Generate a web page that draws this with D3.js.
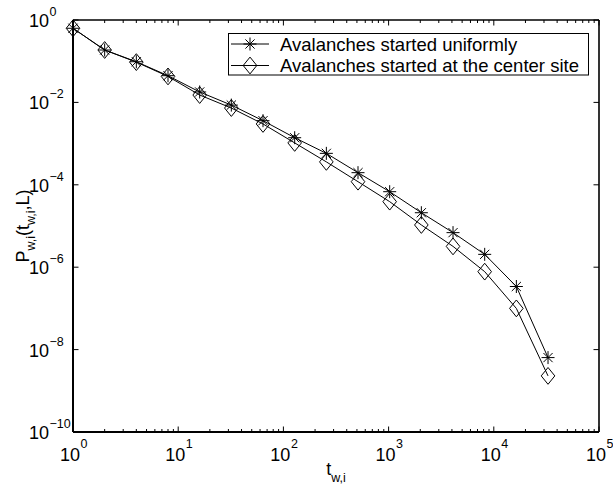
<!DOCTYPE html>
<html>
<head>
<meta charset="utf-8">
<script src="https://cdn.jsdelivr.net/npm/d3@7"></script>
<style>
  html, body { margin: 0; padding: 0; background: #fff; }
  svg text { font-family: "Liberation Sans", Arial, Helvetica, sans-serif; fill: #000; }
</style>
</head>
<body>
<svg id="chart" width="613" height="486"></svg>
<script>
// Waiting-time distribution for avalanches, two starting conditions
const tw = [1, 2, 4, 8, 16, 32, 64, 128, 256, 512, 1024, 2048, 4096, 8192, 16384, 32768];
const pUniform = [0.63, 0.187, 0.097, 0.0445, 0.0179, 0.0086, 0.0036, 0.00139, 5.8e-4, 1.97e-4,
                  6.8e-5, 2.1e-5, 6.9e-6, 2.05e-6, 3.4e-7, 6.4e-9];
const pCenter = [0.63, 0.187, 0.095, 0.0427, 0.0151, 0.0073, 0.0030, 0.00104, 3.6e-4, 1.19e-4,
                 3.9e-5, 1.06e-5, 3.2e-6, 7.8e-7, 1.0e-7, 2.3e-9];
const seriesNames = ["Avalanches started uniformly", "Avalanches started at the center site"];
const xTickExps = [0, 1, 2, 3, 4, 5];
const yTickExps = [0, -2, -4, -6, -8, -10];

const svg = d3.select("#chart");
const L = 73, R = 599, T = 20, B = 432;

const x = d3.scaleLog().domain([1, 1e5]).range([L, R]);
const y = d3.scaleLog().domain([1e-10, 1]).range([B, T]);

const fmtExp = e => (e < 0 ? "\u2212" + (-e) : String(e));

// minor x ticks (2..9 per decade)
const minorX = [];
for (let e = 0; e < 5; e++) for (let m = 2; m <= 9; m++) minorX.push(m * Math.pow(10, e));
const majorX = xTickExps.map(e => Math.pow(10, e));
const majorY = yTickExps.map(e => Math.pow(10, e));

const ticks = svg.append("g").attr("stroke", "#000").attr("stroke-width", 1);
minorX.forEach(v => {
  ticks.append("line").attr("x1", x(v)).attr("x2", x(v)).attr("y1", B).attr("y2", B - 3);
  ticks.append("line").attr("x1", x(v)).attr("x2", x(v)).attr("y1", T).attr("y2", T + 3);
});
majorX.forEach(v => {
  ticks.append("line").attr("x1", x(v)).attr("x2", x(v)).attr("y1", B).attr("y2", B - 5.5);
  ticks.append("line").attr("x1", x(v)).attr("x2", x(v)).attr("y1", T).attr("y2", T + 5.5);
});
majorY.forEach(v => {
  ticks.append("line").attr("x1", L).attr("x2", L + 5.5).attr("y1", y(v)).attr("y2", y(v));
  ticks.append("line").attr("x1", R).attr("x2", R - 5.5).attr("y1", y(v)).attr("y2", y(v));
});

// axes frame
const frame = svg.append("g").attr("stroke", "#000").attr("fill", "none");
frame.append("line").attr("x1", L).attr("x2", R).attr("y1", B).attr("y2", B).attr("stroke-width", 2);
frame.append("line").attr("x1", L).attr("x2", L).attr("y1", T).attr("y2", B).attr("stroke-width", 2);
frame.append("line").attr("x1", L).attr("x2", R).attr("y1", T).attr("y2", T).attr("stroke-width", 1.4);
frame.append("line").attr("x1", R).attr("x2", R).attr("y1", T).attr("y2", B).attr("stroke-width", 1.6);

// tick labels
const big = 18, small = 12.5;
xTickExps.forEach(e => {
  const px = x(Math.pow(10, e));
  svg.append("text").attr("x", px + 7).attr("y", 461).attr("text-anchor", "end")
     .attr("font-size", big).text("10");
  svg.append("text").attr("x", px + 7.5).attr("y", 448).attr("text-anchor", "start")
     .attr("font-size", small).text(fmtExp(e));
});
yTickExps.forEach(e => {
  const py = y(Math.pow(10, e));
  svg.append("text").attr("x", 49).attr("y", py + 7).attr("text-anchor", "end")
     .attr("font-size", big).text("10");
  svg.append("text").attr("x", 49.5).attr("y", py - 4).attr("text-anchor", "start")
     .attr("font-size", small).text(fmtExp(e));
});

// axis titles
const xt = svg.append("text").attr("x", (L + R) / 2).attr("y", 475)
  .attr("text-anchor", "middle").attr("font-size", big);
xt.append("tspan").text("t");
xt.append("tspan").attr("dy", 7).attr("font-size", small).text("w,i");

const yt = svg.append("text").attr("transform", `translate(28.5,${(T + B) / 2}) rotate(-90)`)
  .attr("text-anchor", "middle").attr("font-size", big);
yt.append("tspan").text("P");
yt.append("tspan").attr("dy", 6).attr("font-size", small).text("w,i");
yt.append("tspan").attr("dy", -6).text("(t");
yt.append("tspan").attr("dy", 6).attr("font-size", small).text("w,i");
yt.append("tspan").attr("dy", -6).text(",L)");

// marker shapes
const starPath = r => {
  const d = r * 0.7071;
  return `M${-r},0L${r},0M0,${-r}L0,${r}M${-d},${-d}L${d},${d}M${-d},${d}L${d},${-d}`;
};
const diamondPath = (w, h) => `M0,${-h}L${w},0L0,${h}L${-w},0Z`;

const line = d3.line().x(d => x(d[0])).y(d => y(d[1]));
const series = [
  { vals: pUniform, marker: starPath(6.5) },
  { vals: pCenter, marker: diamondPath(6.8, 8.4) }
];

const plot = svg.append("g");
series.forEach(s => {
  const pts = tw.map((t, i) => [t, s.vals[i]]);
  plot.append("path").attr("d", line(pts)).attr("fill", "none")
      .attr("stroke", "#000").attr("stroke-width", 1);
  plot.selectAll(null).data(pts).enter().append("path")
      .attr("transform", d => `translate(${x(d[0])},${y(d[1])})`)
      .attr("d", s.marker).attr("fill", "none").attr("stroke", "#000").attr("stroke-width", 1);
});

// legend
const lg = svg.append("g");
lg.append("rect").attr("x", 228.5).attr("y", 33.5).attr("width", 360).attr("height", 41.5)
  .attr("fill", "#fff").attr("stroke", "#000").attr("stroke-width", 1);
const rowY = [44, 65.5];
series.forEach((s, i) => {
  lg.append("line").attr("x1", 231).attr("x2", 269).attr("y1", rowY[i]).attr("y2", rowY[i])
    .attr("stroke", "#000").attr("stroke-width", 1);
  lg.append("path").attr("transform", `translate(250,${rowY[i]})`).attr("d", s.marker)
    .attr("fill", "none").attr("stroke", "#000").attr("stroke-width", 1);
  lg.append("text").attr("x", 280).attr("y", rowY[i] + 6.8).attr("font-size", 18.5)
    .text(seriesNames[i]);
});
</script>
</body>
</html>
